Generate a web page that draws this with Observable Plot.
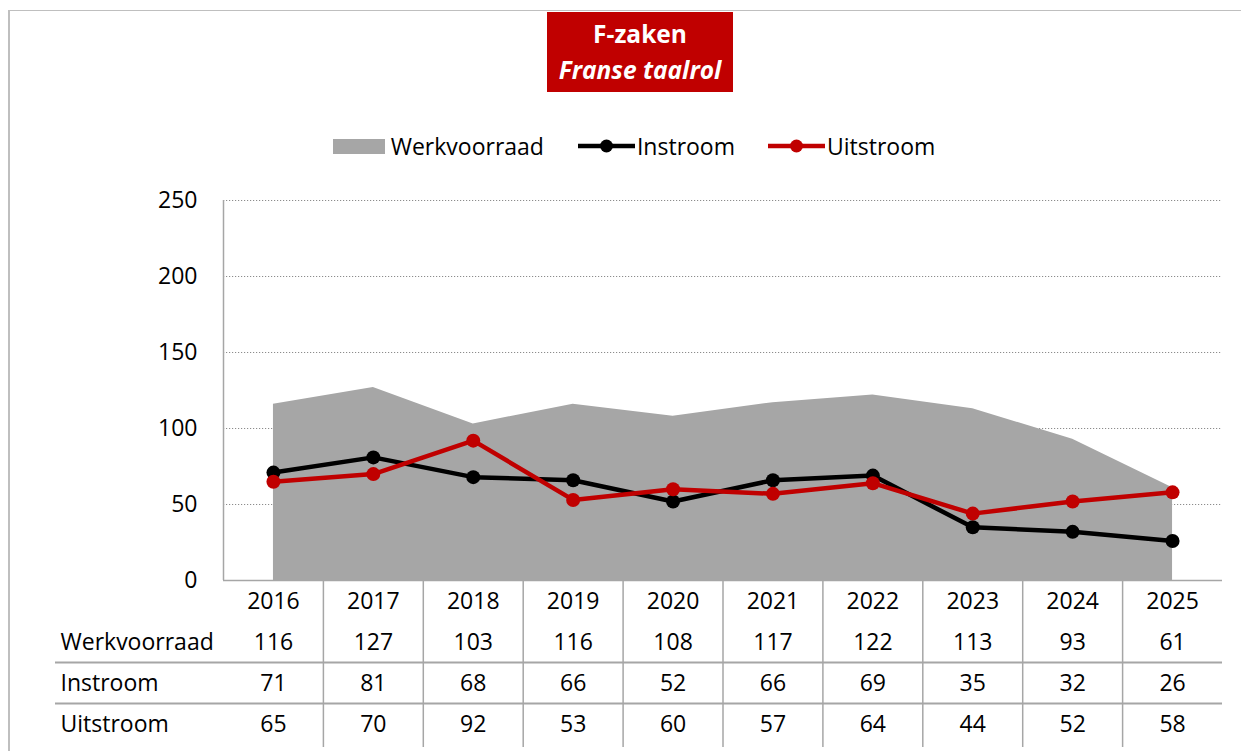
<!DOCTYPE html>
<html>
<head>
<meta charset="utf-8">
<script src="https://cdn.jsdelivr.net/npm/d3@7"></script>
<script src="https://cdn.jsdelivr.net/npm/@observablehq/plot@0.6"></script>
<style>
  html, body { margin: 0; padding: 0; background: #fff; overflow: hidden; }
  body { width: 1241px; height: 751px; position: relative; font-family: "Open Sans", sans-serif; }
  #frame { position: absolute; left: 8px; top: 10px; width: 1300px; height: 800px;
           border-top: 1.5px solid #bfbfbf; border-left: 2px solid #bfbfbf; }
  #title { position: absolute; left: 547px; top: 12px; width: 186px; height: 80px; background: #c00000;
           color: #fff; font-weight: 700; font-size: 24.5px; text-align: center; line-height: 36px;
           padding-top: 4px; box-sizing: border-box; white-space: nowrap; }
  #title .sub { font-style: italic; }
  #legend { position: absolute; left: 0; top: 130px; width: 1268px; display: flex; justify-content: center;
            align-items: center; font-size: 23px; color: #000; }
  #legend .item { display: flex; align-items: center; }
  #legend svg { display: block; }
  #chart { position: absolute; left: 0; top: 0; }
  #table { position: absolute; left: 0; top: 580px; }
</style>
</head>
<body>
<div id="frame"></div>
<div id="chart"></div>
<div id="table"></div>
<div id="title"><div>F-zaken</div><div class="sub">Franse taalrol</div></div>
<div id="legend"></div>
<script>
const years = [2016, 2017, 2018, 2019, 2020, 2021, 2022, 2023, 2024, 2025];
const werkvoorraad = [116, 127, 103, 116, 108, 117, 122, 113, 93, 61];
const instroom = [71, 81, 68, 66, 52, 66, 69, 35, 32, 26];
const uitstroom = [65, 70, 92, 53, 60, 57, 64, 44, 52, 58];
const seriesNames = ["Werkvoorraad", "Instroom", "Uitstroom"];
const yTicks = [0, 50, 100, 150, 200, 250];

const colors = { Werkvoorraad: "#a6a6a6", Instroom: "#000000", Uitstroom: "#c00000" };
const data = years.map((y, i) => ({ year: y, Werkvoorraad: werkvoorraad[i], Instroom: instroom[i], Uitstroom: uitstroom[i] }));

const xDomain = [years[0] - 0.5, years[years.length - 1] + 0.5];
const xRange = [223, 1222];
const FS = 23;
const fontStyle = { background: "transparent", fontFamily: "Open Sans, sans-serif", fontSize: FS + "px", color: "#000", overflow: "visible" };

const chart = Plot.plot({
  width: 1241, height: 582,
  marginTop: 200, marginBottom: 2, marginLeft: 223, marginRight: 19,
  style: fontStyle,
  x: { domain: xDomain, range: xRange, axis: null },
  y: { domain: [0, 250] },
  marks: [
    Plot.gridY(yTicks.filter(t => t > 0), { stroke: "#8c8c8c", strokeOpacity: 1, strokeDasharray: "1.2,1.8", strokeWidth: 1 }),
    Plot.areaY(data, { x: "year", y: "Werkvoorraad", fill: colors.Werkvoorraad }),
    Plot.ruleY([0], { stroke: "#a6a6a6", strokeWidth: 1.5 }),
    Plot.ruleX([xDomain[0]], { y1: 0, y2: 250, stroke: "#a6a6a6", strokeWidth: 1.5 }),
    Plot.axisY({ ticks: yTicks, tickSize: 0, tickPadding: 26, fontSize: FS, tickFormat: d => String(d) }),
    Plot.line(data, { x: "year", y: "Instroom", stroke: colors.Instroom, strokeWidth: 4.5 }),
    Plot.dot(data, { x: "year", y: "Instroom", fill: colors.Instroom, r: 7 }),
    Plot.line(data, { x: "year", y: "Uitstroom", stroke: colors.Uitstroom, strokeWidth: 4.5 }),
    Plot.dot(data, { x: "year", y: "Uitstroom", fill: colors.Uitstroom, r: 7 })
  ]
});
document.getElementById("chart").appendChild(chart);

// data table below the chart
const cells = [];
years.forEach((yr, i) => {
  cells.push({ year: yr, row: 0, label: String(yr) });
  seriesNames.forEach((s, r) => cells.push({ year: yr, row: r + 1, label: String(data[i][s]) }));
});
const rowLabels = seriesNames.map((s, r) => ({ row: r + 1, label: s }));
const boundaries = years.slice(1).map(y => y - 0.5);

const table = Plot.plot({
  width: 1241, height: 171,
  marginTop: 0, marginBottom: 4, marginLeft: 55, marginRight: 19,
  style: fontStyle,
  x: { domain: xDomain, range: xRange, axis: null },
  y: { domain: [0, 4], range: [0, 164], axis: null },
  marks: [
    Plot.ruleX(boundaries, { stroke: "#a6a6a6", strokeWidth: 1.5 }),
    Plot.ruleY([2, 3], { stroke: "#a6a6a6", strokeWidth: 2 }),
    Plot.text(cells, { x: "year", y: d => d.row + 0.5, dy: 1, text: "label", fontSize: FS, fill: "#000" }),
    Plot.text(rowLabels, { y: d => d.row + 0.5, dy: 1, text: "label", frameAnchor: "left", dx: 5, textAnchor: "start", fontSize: FS, fill: "#000" })
  ]
});
document.getElementById("table").appendChild(table);

// legend
const legend = document.getElementById("legend");
function addItem(name, kind, gapBefore) {
  const item = document.createElement("div");
  item.className = "item";
  item.style.marginLeft = gapBefore + "px";
  const ns = "http://www.w3.org/2000/svg";
  const svg = document.createElementNS(ns, "svg");
  svg.setAttribute("width", kind === "area" ? 52 : 57);
  svg.setAttribute("height", 30);
  if (kind === "area") {
    const r = document.createElementNS(ns, "rect");
    r.setAttribute("x", 0); r.setAttribute("y", 8); r.setAttribute("width", 52); r.setAttribute("height", 15);
    r.setAttribute("fill", colors[name]);
    svg.appendChild(r);
  } else {
    const l = document.createElementNS(ns, "line");
    l.setAttribute("x1", 0); l.setAttribute("x2", 57); l.setAttribute("y1", 15); l.setAttribute("y2", 15);
    l.setAttribute("stroke", colors[name]); l.setAttribute("stroke-width", 4.5);
    svg.appendChild(l);
    const c = document.createElementNS(ns, "circle");
    c.setAttribute("cx", 28.5); c.setAttribute("cy", 15); c.setAttribute("r", 6.5);
    c.setAttribute("fill", colors[name]);
    svg.appendChild(c);
  }
  item.appendChild(svg);
  const t = document.createElement("span");
  t.textContent = name;
  t.style.marginLeft = (kind === "area" ? 6 : 2) + "px";
  item.appendChild(t);
  legend.appendChild(item);
}
addItem("Werkvoorraad", "area", 0);
addItem("Instroom", "line", 34);
addItem("Uitstroom", "line", 33);
</script>
</body>
</html>
